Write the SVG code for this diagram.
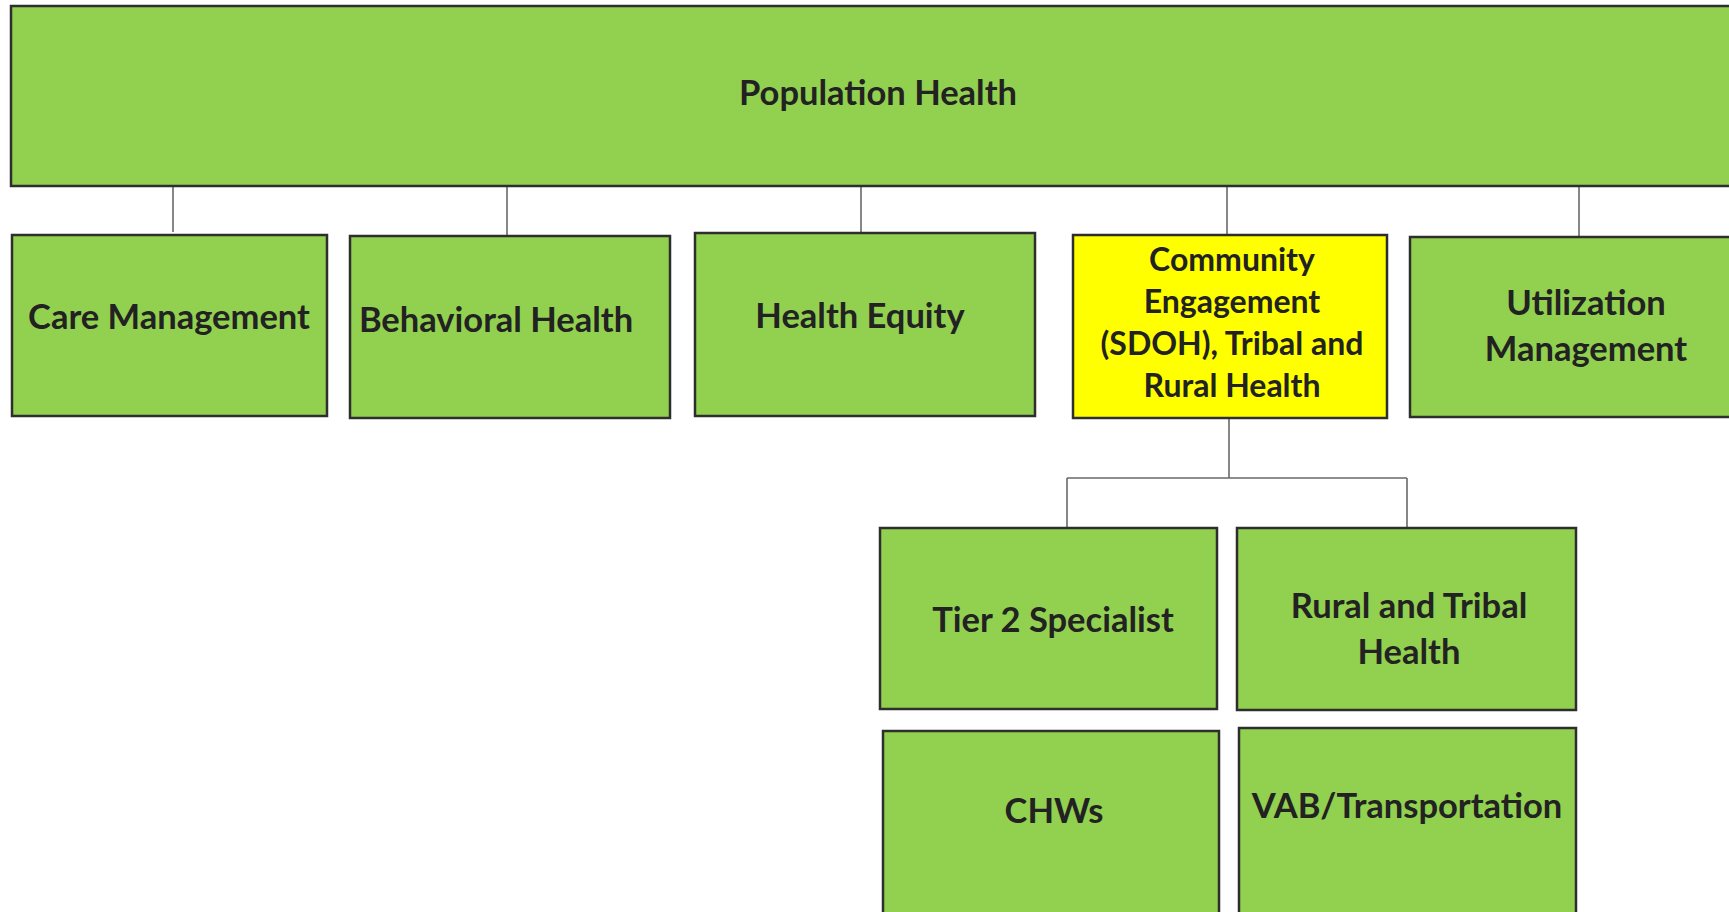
<svg xmlns="http://www.w3.org/2000/svg" width="1729" height="912" viewBox="0 0 1729 912">
<style>
.box{fill:#92d050;stroke:#2e2e2e;stroke-width:2.5}
.yel{fill:#ffff00;stroke:#2e2e2e;stroke-width:2.5}
.lbl{font-family:Lato,"Open Sans","Liberation Sans",sans-serif;font-weight:bold;font-size:34.5px;fill:#222;text-anchor:middle}
.sm{font-size:32px}
.conn{stroke:#6a6a6a;stroke-width:1.6;fill:none}
</style>
<rect width="1729" height="912" fill="#ffffff"/>
<g id="connectors">
<path class="conn" d="M173 186V232M507 186V235M861 186V233M1227 186V235M1579 186V237"/>
<path class="conn" d="M1229 418V478M1067 478H1407M1067 478V528M1407 478V528"/>
</g>
<g id="population-health">
<rect class="box" x="11" y="6" width="1735" height="180"/>
<text class="lbl" x="878" y="105">Population Health</text>
</g>
<g id="care-management">
<rect class="box" x="12" y="235" width="315" height="181"/>
<text class="lbl" x="169" y="329">Care Management</text>
</g>
<g id="behavioral-health">
<rect class="box" x="350" y="236" width="320" height="182"/>
<text class="lbl" x="496" y="332">Behavioral Health</text>
</g>
<g id="health-equity">
<rect class="box" x="695" y="233" width="340" height="183"/>
<text class="lbl" x="860" y="328">Health Equity</text>
</g>
<g id="community-engagement">
<rect class="yel" x="1073" y="235" width="314" height="183"/>
<text class="lbl sm" x="1232" y="271">Community</text>
<text class="lbl sm" x="1232" y="313">Engagement</text>
<text class="lbl sm" x="1232" y="355">(SDOH), Tribal and</text>
<text class="lbl sm" x="1232" y="397">Rural Health</text>
</g>
<g id="utilization-management">
<rect class="box" x="1410" y="237" width="340" height="180"/>
<text class="lbl" x="1586" y="315">Utilization</text>
<text class="lbl" x="1586" y="361">Management</text>
</g>
<g id="tier2-specialist">
<rect class="box" x="880" y="528" width="337" height="181"/>
<text class="lbl" x="1053" y="632">Tier 2 Specialist</text>
</g>
<g id="rural-tribal-health">
<rect class="box" x="1237" y="528" width="339" height="182"/>
<text class="lbl" x="1409" y="618">Rural and Tribal</text>
<text class="lbl" x="1409" y="664">Health</text>
</g>
<g id="chws">
<rect class="box" x="883" y="731" width="336" height="220"/>
<text class="lbl" x="1054" y="823">CHWs</text>
</g>
<g id="vab-transportation">
<rect class="box" x="1239" y="728" width="337" height="223"/>
<text class="lbl" x="1407" y="818">VAB/Transportation</text>
</g>
</svg>
